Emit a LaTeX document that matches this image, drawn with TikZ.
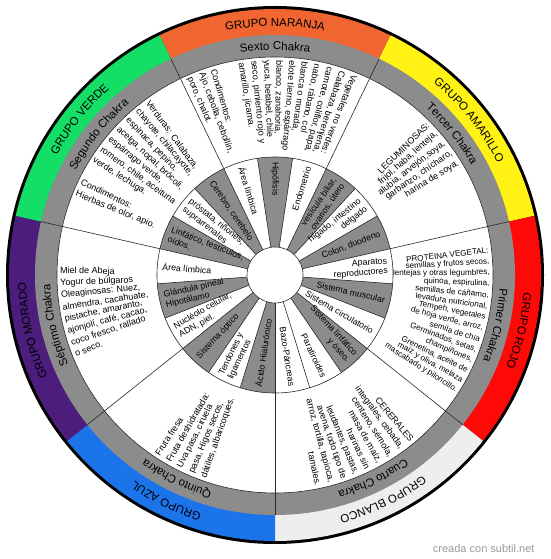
\documentclass[tikz,border=0pt]{standalone}
\usepackage{fontspec}
\setmainfont{Liberation Sans}
\usetikzlibrary{decorations.text}
\definecolor{naranja}{RGB}{241,101,49}
\definecolor{amarillo}{RGB}{255,242,20}
\definecolor{rojo}{RGB}{255,8,8}
\definecolor{blanco}{RGB}{238,238,238}
\definecolor{azul}{RGB}{28,116,234}
\definecolor{morado}{RGB}{76,29,124}
\definecolor{verde}{RGB}{20,222,102}
\definecolor{gris}{RGB}{140,140,140}
\definecolor{linea}{RGB}{40,40,40}
\tikzstyle{food} = [inner sep=0pt, font=\fontsize{9}{10}\selectfont]
\tikzstyle{organ} = [inner sep=0pt, font=\fontsize{8.8}{10}\selectfont]
\tikzstyle{divider} = [draw=linea, line width=0.6pt]
\newcommand{\grpfont}{\fontsize{11.5}{13}\selectfont}
\newcommand{\rotulo}[3]{%
  \path[decorate, decoration={text along path, text align=center, text={|\grpfont|#2}}]
    ({#1+40}:249) arc[start angle={#1+40}, end angle={#1-40}, radius=249];
  \path[decorate, decoration={text along path, text align=center, text={|\grpfont|#3}}]
    ({#1+40}:225) arc[start angle={#1+40}, end angle={#1-40}, radius=225];}
\newcommand{\outlines}[5]{%
  \foreach \lin [count=\i from 0] in {#5}
    \node[food, anchor=east, rotate={#3-\i*#4}] (#1-\i) at ({#3-\i*#4}:#2) {\lin};}
\newcommand{\inlines}[5]{%
  \foreach \lin [count=\i from 0] in {#5}
    \node[food, anchor=west, rotate={#3+\i*#4+180}] (#1-\i) at ({#3+\i*#4}:#2) {\lin};}
\newcommand{\orgout}[3]{\node[organ, anchor=east, align=right, rotate=#2] (#1) at (#2:113) {#3};}
\newcommand{\orgin}[3]{\node[organ, anchor=west, align=left, rotate={#2+180}] (#1) at (#2:113) {#3};}

\begin{document}
\begin{tikzpicture}[x=1pt, y=1pt]
\useasboundingbox (-275,-284) rectangle (275,275);
\fill[black] (0,0) circle[radius=269];
\foreach \c [count=\k from 0] in {naranja,amarillo,rojo,blanco,azul,morado,verde} {
  \pgfmathsetmacro{\a}{115.714-\k*360/7}
  \fill[\c] (0,0) -- (\a:266) arc[start angle=\a, end angle={\a-360/7}, radius=266] -- cycle;
}
\fill[gris] (0,0) circle[radius=240];
\filldraw[fill=white, divider] (0,0) circle[radius=218];
\foreach \j in {1,3,5,7,9,12,14,16,18,20} {
  \pgfmathsetmacro{\a}{115.714-\j*360/21}
  \fill[gris] (0,0) -- (\a:118) arc[start angle=\a, end angle={\a-360/21}, radius=118] -- cycle;
}
\foreach \j in {0,...,20}
  \draw[divider] ({115.714-\j*360/21}:28) -- ({115.714-\j*360/21}:118);
\foreach \k in {0,...,6}
  \draw[divider] ({115.714-\k*360/7}:118) -- ({115.714-\k*360/7}:240);
\draw[divider] (0,0) circle[radius=118];
\filldraw[fill=white, divider] (0,0) circle[radius=28];

\rotulo{90}{GRUPO NARANJA}{Sexto Chakra}
\rotulo{38.571}{GRUPO AMARILLO}{Tercer Chakra}
\rotulo{-12.857}{GRUPO ROJO}{Primer Chakra}
\rotulo{-64.286}{GRUPO BLANCO}{Cuarto Chakra}
\rotulo{-115.714}{GRUPO AZUL}{Quinto Chakra}
\rotulo{-167.143}{GRUPO MORADO}{Séptimo Chakra}
\rotulo{141.429}{GRUPO VERDE}{Segundo Chakra}

\inlines{cond}{215}{106.6}{3.4}{{Condimentos:},{Ajo, cebolla, cebollín,},{poro, chalot.}}
\inlines{veg}{215}{68.5}{3.4}{{Vegetales no verdes:},{Calabaza, berenjena,},{camote, coliflor, papa,},{nabo, rábano, col},{blanca o morada,},{elote tierno, espárrago},{blanco, zanahoria,},{yuca, betabel, chile},{seco, pimiento rojo y},{amarillo, jícama.}}
\outlines{leg}{215}{44.6}{3.3}{{LEGUMINOSAS:},{frijol, haba, lenteja,},{alubia, arvejón,soya,},{garbanzo, chícharo,},{harina de soya.}}
\begin{scope}[food/.append style={font=\fontsize{8.1}{9}\selectfont}]
\outlines{prot}{215}{6.6}{3.0}{{PROTEINA VEGETAL:},{semillas y frutos secos,},{lentejas y otras legumbres,},{quinoa, espirulina,},{semillas de cáñamo,},{levadura nutricional,},{Tempeh, vegetales},{de hoja verde, arroz,},{semila de chía},{Germinados, setas,},{champiñones,},{Grenetina, aceite de},{maíz y oliva, melaza},{mascabado y piloncillo.}}
\end{scope}
\outlines{cer}{215}{-50.4}{3.5}{{CERERALES},{integrales, cebada,},{centeno, sémola,},{masa de maíz,},{harinas sin},{leudantes, pastas,},{avena, todo tipo de},{arroz, tortilla, tapioca,},{tamales.}}
\inlines{fruta}{215}{-123.3}{3.5}{{Fruta fresa},{Fruta deshidratada:},{Uva pasa, ciruela},{pasa, Higos secos,},{dátiles, albaricoques.}}
\inlines{miel}{215}{178.9}{3.27}{{Miel de Abeja},{Yogur de búlgaros},{Oleaginosas: Nuez,},{almendra, cacahuate,},{pistache, amaranto,},{ajonjolí, café, cacao,},{coco fresco, rallado},{o seco.}}
\inlines{verd}{215}{126.3}{3.55}{{Verduras: Calabaza,},{chayote, chilacayote,},{espinaca, pepino,},{acelga, nopal, brócoli,},{espárrago verde,},{romero, chile, aceituna},{verde, lechuga.}}
\inlines{hierb}{215}{154.2}{3.6}{{Condimentos:},{Hierbas de olor, apio.}}

\orgin{hipofisis}{90}{Hipófisis}
\orgin{limbica1}{107.143}{Área límbica}
\orgout{endometrio}{72.857}{Endometrio}
\orgout{vesicula}{55.714}{vesícula biliar,\\ovarios, útero}
\orgout{higado}{38.571}{hígado, intestino\\delgado}
\orgout{colon}{21.429}{Colon, duodeno}
\orgout{aparatos}{4.286}{Aparatos\\reproductores}
\orgout{muscular}{-12.857}{Sistema muscular}
\orgout{circulatorio}{-30}{Sistema circulatorio}
\orgout{linfatico}{-47.143}{Sistema linfático\\y óseo.}
\orgout{paratiroides}{-64.286}{Paratiroides}
\orgout{bazo}{-81.429}{Bazo-Páncreas}
\orgin{acido}{261.429}{Ácido Hialurónico}
\orgin{tendones}{244.286}{Tendones y\\ligamentos}
\orgin{optico}{227.143}{Sistema óptico}
\orgin{nucleolo}{210}{Nucléolo celular,\\ADN, piel.}
\orgin{glandula}{192.857}{Glándula pineal\\Hipotálamo}
\orgin{limbica2}{175.714}{Área límbica}
\orgin{linfa}{158.571}{Linfático, testículos,\\oídos.}
\orgin{prostata}{141.429}{próstata, riñones,\\suprarrenales}
\orgin{cerebro}{124.286}{Cerebro, cerebelo}

\node[anchor=east, text=black!40, font=\fontsize{11}{13}\selectfont] (firma) at (263,-274) {creada con subtil.net};
\end{tikzpicture}
\end{document}
